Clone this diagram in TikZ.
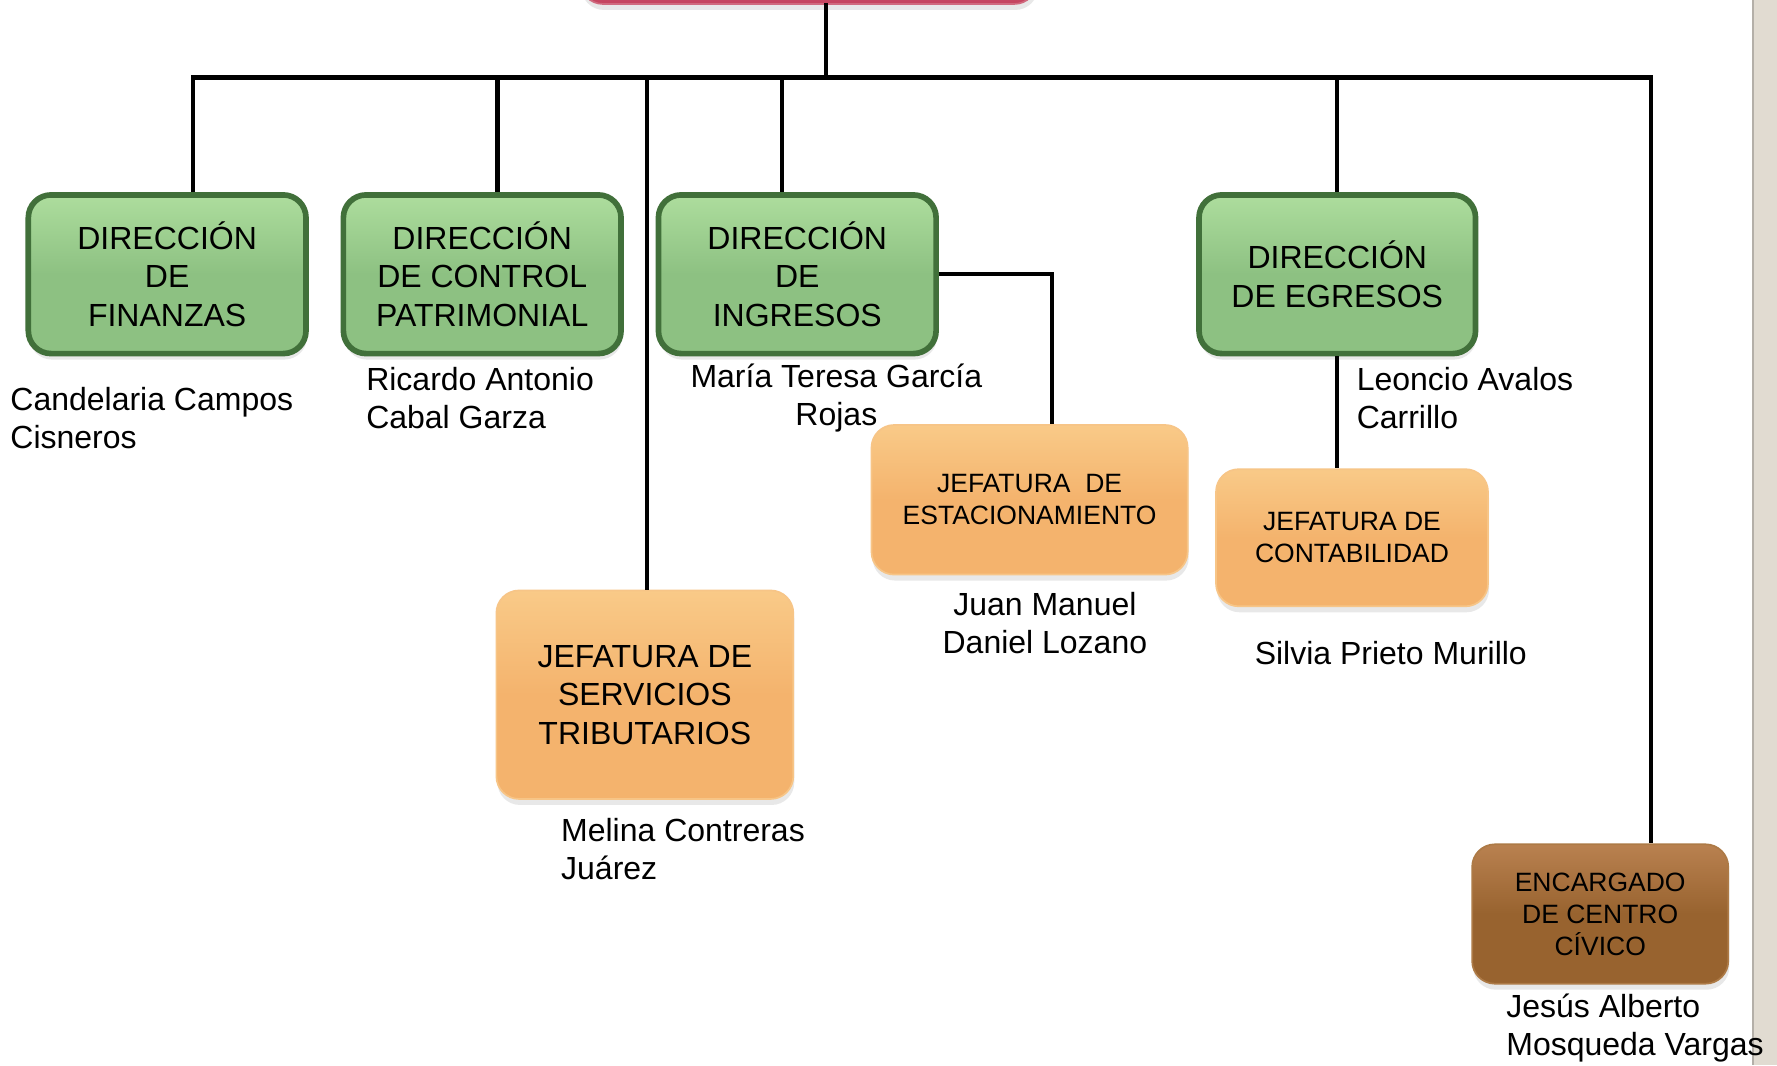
\documentclass[tikz,border=0pt]{standalone}
\usepackage{fontspec}
\setmainfont{Liberation Sans}
\usetikzlibrary{shadows,calc}
\newdimen\pxu \pxu=1.1333pt
\definecolor{grnrim}{HTML}{41703A}
\definecolor{grnfill}{HTML}{8DC182}
\definecolor{grntop}{HTML}{ADDD9D}
\definecolor{orfill}{HTML}{F4B36D}
\definecolor{ortop}{HTML}{F9CA88}
\definecolor{orrim}{HTML}{F7C587}
\definecolor{brfill}{HTML}{98632F}
\definecolor{brtop}{HTML}{B98150}
\definecolor{brrim}{HTML}{AD7A46}
\definecolor{redfill}{HTML}{C4435E}
\definecolor{redtop}{HTML}{D9788A}
\definecolor{stripc}{HTML}{E1DBD1}
\definecolor{stripe}{HTML}{B4AFA8}
\tikzset{
  boxbase/.style={rectangle, rounded corners=20\pxu, inner sep=0pt, align=center,
    drop shadow={opacity=0.18, shadow xshift=1pt, shadow yshift=-6pt}},
  greenbox/.style={boxbase, draw=grnrim, line width=5\pxu, top color=grntop, bottom color=grnfill,
    middle color=grnfill, font=\fontsize{32}{38.5}\selectfont},
  orangebox/.style={boxbase, draw=orrim, line width=1.5\pxu, top color=ortop, bottom color=orfill,
    middle color=orfill},
  brownbox/.style={boxbase, draw=brrim, line width=1.5\pxu, top color=brtop, bottom color=brfill,
    middle color=brfill, font=\fontsize{26.5}{32}\selectfont},
  conn/.style={draw=black, line width=3.8\pxu},
  namel/.style={inner sep=0pt, align=left, anchor=west, font=\fontsize{32}{38}\selectfont},
  namec/.style={inner sep=0pt, align=center, font=\fontsize{32}{38}\selectfont}
}
\begin{document}
\begin{tikzpicture}[x=1.1333pt, y=-1.1333pt]
\useasboundingbox (0,0) rectangle (1568,940);
\fill[white] (0,0) rectangle (1568,940);
% right grey strip
\fill[stripc] (1546,0) rectangle (1568,940);
\draw[stripe, line width=2\pxu] (1547,0) -- (1547,940);

% top (cut off) box
\node[boxbase, draw=redfill!80!white, line width=1.5\pxu, top color=redtop, bottom color=redfill,
  minimum width=403\pxu, minimum height=60\pxu] (top) at (713.5,-26.5) {};

% green boxes
\node[greenbox, minimum width=245\pxu, minimum height=140\pxu] (fin) at (147.5,242) {DIRECCIÓN\\DE\\FINANZAS};
\node[greenbox, minimum width=245\pxu, minimum height=140\pxu] (ctl) at (425.5,242) {DIRECCIÓN\\DE CONTROL\\PATRIMONIAL};
\node[greenbox, minimum width=245\pxu, minimum height=140\pxu] (ing) at (703.5,242) {DIRECCIÓN\\DE\\INGRESOS};
\node[greenbox, minimum width=244\pxu, minimum height=140\pxu] (egr) at (1180,242) {DIRECCIÓN\\DE EGRESOS};

% orange boxes
\node[orangebox, minimum width=279\pxu, minimum height=132\pxu, font=\fontsize{26.5}{32}\selectfont] (est) at (908.5,441) {JEFATURA \ DE\\ESTACIONAMIENTO};
\node[orangebox, minimum width=240\pxu, minimum height=121\pxu, font=\fontsize{26.5}{32}\selectfont] (cont) at (1193,474.5) {JEFATURA DE\\CONTABILIDAD};
\node[orangebox, minimum width=262\pxu, minimum height=184\pxu, font=\fontsize{32}{38.5}\selectfont] (serv) at (569,613) {JEFATURA DE\\SERVICIOS\\TRIBUTARIOS};

% brown box
\node[brownbox, minimum width=226\pxu, minimum height=123\pxu] (enc) at (1412,806.5) {ENCARGADO\\DE CENTRO\\CÍVICO};

% connectors
\coordinate (ttop) at (729,3);
\coordinate (busL) at (170,68.5);
\coordinate (busR) at (1457,68.5);
\coordinate (bctl) at (439,68.5);
\coordinate (bserv) at (571,68.5);
\coordinate (bing) at (690,68.5);
\coordinate (begr) at (1180,68.5);
\coordinate (bmid) at (729,68.5);
\coordinate (elb) at (928,242);
\draw[conn] (ttop) -- (bmid);
\draw[conn, line cap=rect] (busL) -- (busR);
\draw[conn] (busL) -- (busL |- fin.north);
\draw[conn] (bctl) -- (bctl |- ctl.north);
\draw[conn] (bserv) -- (bserv |- serv.north);
\draw[conn] (bing) -- (bing |- ing.north);
\draw[conn] (begr) -- (begr |- egr.north);
\draw[conn] (busR) -- (busR |- enc.north);
\draw[conn] (ing.east) -- (elb) -- (elb |- est.north);
\draw[conn] (egr.south) -- (egr.south |- cont.north);

% names
\node[namel] (n1) at (9,368.5) {Candelaria Campos\\Cisneros};
\node[namel] (n2) at (323,351.5) {Ricardo Antonio\\Cabal Garza};
\node[namec] (n3) at (738,351.5) {María Teresa García\\Rojas};
\node[namec] (n4) at (922,550) {Juan Manuel\\Daniel Lozano};
\node[namel] (n5) at (1197,351.5) {Leoncio Avalos\\Carrillo};
\node[namel] (n6) at (1107,576) {Silvia Prieto Murillo};
\node[namel] (n7) at (495,749) {Melina Contreras\\Juárez};
\node[namel] (n8) at (1329,907.5) {Jesús Alberto\\Mosqueda Vargas};
\end{tikzpicture}
\end{document}
